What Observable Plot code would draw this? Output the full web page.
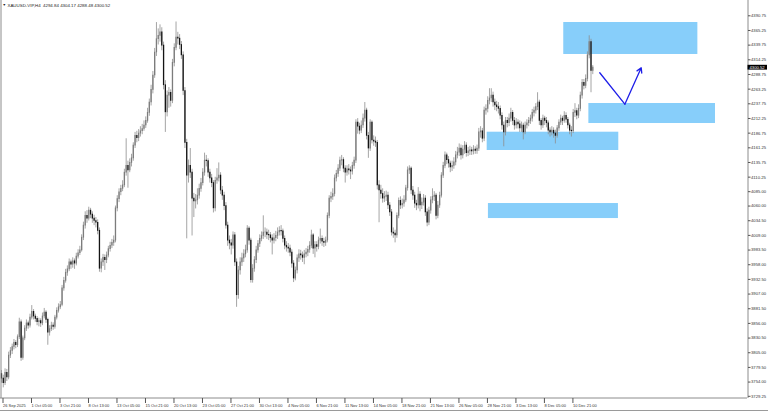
<!DOCTYPE html>
<html><head><meta charset="utf-8">
<script src="https://cdn.jsdelivr.net/npm/d3@7"></script>
<script src="https://cdn.jsdelivr.net/npm/@observablehq/plot@0.6"></script>
<style>
body{margin:0;background:#fff;}
#chart{width:768px;height:411px;position:relative;overflow:hidden;}
#chart svg{display:block;}
#border{height:1px;background:#9a9a9a;}
</style>
</head><body><div id="chart"></div>
<script>
const chartTitle = "XAUUSD-VIP,H4  4294.84 4304.17 4288.48 4300.52";
const firstOpen = 3768;
const closes = [
3760,3752,3770,3762,3800,3808,3815,3822,3818,3832,
3858,3796,3830,3847,3856,3852,3866,3876,3868,3864,
3858,3860,3856,3868,3875,3862,3840,3846,3852,3850,
3866,3878,3884,3888,3917,3930,3944,3950,3962,3958,
3964,3960,3972,3978,3983,4005,4026,4043,4038,4052,
4045,4038,4034,4031,4017,3951,3962,3970,3966,3974,
3985,3991,3996,4000,4056,4072,4084,4090,4096,4118,
4130,4122,4135,4143,4165,4182,4178,4186,4190,4194,
4200,4208,4222,4240,4262,4287,4327,4350,4356,4362,
4339,4270,4223,4252,4257,4243,4309,4335,4353,4351,
4340,4322,4260,4170,4113,4130,4118,4073,4068,4070,
4078,4090,4100,4118,4139,4138,4118,4108,4100,4056,
4104,4108,4113,4087,4078,4060,4026,4000,3995,3991,
4009,3962,3905,3948,3962,3969,3976,3983,4021,4000,
3931,3951,3966,3983,3994,4003,4008,4014,4014,4010,
4009,4004,4000,4004,4008,4014,4017,4016,4003,3991,
3988,3986,3979,3960,3934,3948,3969,3976,3974,3970,
3976,3979,3984,3991,4009,3986,3992,3989,4000,4003,
3998,3996,4000,4043,4073,4076,4081,4108,4116,4125,
4139,4140,4125,4118,4124,4122,4120,4130,4139,4205,
4198,4191,4200,4212,4226,4182,4160,4205,4174,4172,
4170,4096,4087,4081,4073,4076,4078,4061,4049,4014,
4012,4009,4043,4069,4061,4064,4070,4091,4122,4125,
4087,4078,4064,4061,4080,4061,4066,4073,4049,4031,
4052,4070,4076,4078,4043,4061,4078,4113,4130,4148,
4140,4134,4127,4130,4136,4148,4153,4160,4148,4158,
4165,4152,4155,4157,4155,4158,4156,4160,4188,4190,
4177,4226,4229,4243,4247,4252,4240,4235,4232,4229,
4217,4200,4188,4208,4204,4212,4222,4208,4200,4205,
4202,4195,4200,4188,4200,4204,4208,4212,4222,4226,
4232,4240,4208,4200,4212,4208,4204,4191,4188,4191,
4186,4182,4195,4205,4212,4208,4217,4210,4200,4191,
4190,4222,4225,4217,4229,4252,4274,4269,4281,4322,
4345,4294.84,4300.52];
const highs = [
3774,3766,3777,3776,3806,3814,3820,3828,3826,3836,
3865,3862,3834,3852,3862,3860,3872,3887,3880,3872,
3868,3865,3864,3874,3882,3878,3865,3852,3858,3857,
3870,3883,3890,3894,3922,3936,3950,3956,3968,3966,
3970,3968,3978,3984,3990,4010,4032,4050,4052,4058,
4056,4050,4044,4040,4036,4022,3968,3976,3975,3980,
3990,3997,4002,4008,4060,4078,4090,4096,4104,4124,
4177,4138,4142,4150,4170,4188,4190,4193,4198,4202,
4208,4215,4230,4246,4270,4294,4334,4379,4368,4375,
4370,4345,4278,4260,4266,4262,4315,4342,4380,4362,
4358,4346,4328,4266,4176,4140,4160,4124,4082,4080,
4090,4098,4108,4125,4152,4148,4142,4124,4115,4104,
4110,4125,4135,4118,4094,4084,4066,4032,4008,4002,
4015,4014,3968,3955,3970,3978,3984,3992,4026,4024,
4004,3958,3972,3990,4000,4010,4015,4043,4022,4020,
4018,4014,4010,4012,4016,4022,4024,4026,4020,4008,
3998,3995,3992,3984,3965,3954,3975,3984,3983,3980,
3983,3986,3990,3998,4018,4012,3998,3998,4006,4020,
4008,4004,4006,4048,4078,4084,4090,4114,4122,4132,
4145,4148,4144,4130,4130,4132,4128,4136,4145,4210,
4212,4204,4208,4220,4240,4230,4188,4210,4208,4182,
4180,4174,4104,4096,4090,4085,4086,4084,4066,4054,
4022,4018,4048,4074,4076,4072,4078,4096,4128,4130,
4128,4094,4084,4070,4092,4085,4074,4080,4078,4055,
4058,4076,4090,4085,4082,4068,4084,4118,4136,4154,
4152,4146,4138,4138,4144,4155,4162,4168,4166,4165,
4172,4170,4162,4164,4162,4165,4163,4166,4195,4198,
4195,4232,4236,4250,4264,4264,4258,4246,4242,4240,
4234,4222,4206,4214,4214,4220,4230,4226,4214,4212,
4210,4208,4206,4204,4206,4210,4214,4218,4228,4232,
4238,4257,4244,4212,4218,4216,4214,4208,4196,4198,
4196,4192,4200,4210,4218,4216,4224,4222,4214,4204,
4198,4228,4238,4230,4236,4258,4280,4280,4288,4328,
4356,4350,4304.17];
const lows = [
3752,3744,3748,3755,3758,3795,3802,3810,3812,3814,
3828,3790,3792,3826,3842,3846,3848,3862,3862,3858,
3852,3850,3849,3852,3864,3856,3818,3834,3842,3844,
3846,3862,3874,3880,3885,3912,3926,3938,3946,3950,
3952,3950,3956,3968,3974,3980,4000,4020,4030,4034,
4038,4030,4026,4022,4010,3945,3944,3955,3948,3960,
3970,3980,3986,3990,3996,4050,4066,4078,4085,4092,
4112,4091,4118,4128,4138,4160,4170,4172,4180,4184,
4190,4195,4204,4216,4234,4255,4282,4320,4340,4345,
4330,4262,4188,4215,4230,4232,4238,4302,4330,4340,
4332,4315,4252,4160,4003,4100,4108,4008,4040,4055,
4062,4072,4084,4095,4112,4128,4110,4100,4092,4048,
4050,4098,4102,4080,4070,4052,4020,3990,3984,3975,
3985,3955,3884,3898,3940,3955,3962,3970,3978,3992,
3926,3926,3945,3960,3978,3988,3998,4002,4005,4002,
4000,3996,3975,3994,3998,4002,4008,4008,3996,3984,
3980,3978,3972,3952,3927,3930,3942,3962,3966,3962,
3958,3970,3972,3978,3986,3976,3970,3980,3984,3994,
3990,3988,3990,3996,4038,4066,4070,4076,4102,4110,
4120,4130,4118,4100,4112,4114,4106,4114,4124,4134,
4185,4184,4186,4195,4206,4175,4143,4155,4168,4164,
4162,4088,4031,4072,4065,4066,4068,4054,4042,4008,
4004,3996,4004,4038,4054,4055,4058,4066,4086,4115,
4080,4070,4056,4052,4055,4050,4054,4060,4042,4024,
4026,4046,4064,4068,4036,4038,4056,4074,4108,4125,
4132,4126,4118,4120,4124,4130,4142,4146,4140,4142,
4150,4145,4146,4148,4148,4149,4150,4150,4155,4178,
4170,4172,4218,4222,4236,4240,4232,4226,4224,4220,
4210,4192,4163,4182,4196,4198,4206,4200,4192,4194,
4194,4188,4188,4175,4184,4194,4198,4202,4206,4215,
4220,4226,4200,4192,4195,4200,4196,4184,4180,4182,
4178,4168,4178,4190,4200,4200,4204,4204,4194,4184,
4180,4186,4214,4210,4212,4224,4246,4262,4264,4276,
4316,4257,4288.48];
const timeLabels = ["26 Sep 2025","1 Oct 05:00","3 Oct 21:00","8 Oct 13:00","13 Oct 05:00","15 Oct 21:00","20 Oct 13:00","23 Oct 05:00","27 Oct 21:00","30 Oct 13:00","4 Nov 05:00","6 Nov 21:00","11 Nov 13:00","14 Nov 05:00","18 Nov 21:00","21 Nov 13:00","26 Nov 05:00","28 Nov 21:00","3 Dec 13:00","8 Dec 05:00","10 Dec 21:00"];
const barsPerLabel = 16;
const priceLabels = ["4390.75","4365.25","4339.75","4314.25","4288.75","4263.25","4237.75","4212.25","4186.75","4161.25","4135.75","4110.25","4085.00","4060.00","4034.50","4009.00","3983.50","3958.00","3932.50","3907.00","3881.50","3856.00","3830.50","3805.00","3779.50","3754.00","3729.25"];
// zones (bar index, price)
const zoneStartBar = [315.7, 329.8, 272.7, 273.4];
const zoneEndBar = [391.0, 400.9, 346.6, 346.4];
const zoneTop = [4379.1, 4238.3, 4188.4, 4064.4];
const zoneBottom = [4323.5, 4203.5, 4156.6, 4038.3];
// projected path (bar index, price)
const pathBar = [335.9, 350.0, 359.2];
const pathPrice = [4291.7, 4237.1, 4300.3];

const bars = closes.map((c, i) => ({i, open: i === 0 ? firstOpen : closes[i - 1], close: c, high: highs[i], low: lows[i]}));
const zones = zoneStartBar.map((s, k) => ({x1: s, x2: zoneEndBar[k], y1: zoneBottom[k], y2: zoneTop[k]}));
const path = pathBar.map((b, k) => ({x: b, y: pathPrice[k]}));
const lastClose = closes[closes.length - 1];

const xDomain = [-0.5615, 418.87];
const yDomain = [3725.45, 4417.35];
const font = "Liberation Sans, Arial, sans-serif";

const chart = Plot.plot({
  width: 768, height: 410,
  marginLeft: 0, marginRight: 21, marginTop: 0, marginBottom: 12,
  style: {fontFamily: font, background: "#fff", color: "#222"},
  x: {domain: xDomain, axis: null},
  y: {domain: yDomain, axis: null},
  marks: [
    Plot.rect(zones, {x1: "x1", x2: "x2", y1: "y1", y2: "y2", fill: "#87cefa"}),
    Plot.ruleX(bars, {x: "i", y1: "low", y2: "high", stroke: "#8e8e8e", strokeWidth: 0.8}),
    Plot.ruleX(bars, {x: "i", y1: d => Math.min(d.open, d.close) - 0.6, y2: d => Math.max(d.open, d.close) + 0.6,
      stroke: d => d.close >= d.open ? "#7c7c7c" : "#141414", strokeWidth: 1.3}),
    Plot.line(path.slice(0, 2), {x: "x", y: "y", stroke: "#1e1ee8", strokeWidth: 1.3}),
    Plot.arrow([{x1: path[1].x, y1: path[1].y, x2: path[2].x, y2: path[2].y}],
      {x1: "x1", y1: "y1", x2: "x2", y2: "y2", stroke: "#1e1ee8", strokeWidth: 1.3, headLength: 6, bend: 0}),
    Plot.ruleX([xDomain[0]], {stroke: "#8c8c8c", dx: 0.5}),
    Plot.ruleX([xDomain[1]], {stroke: "#8c8c8c", dx: 0.5}),
    Plot.ruleY([yDomain[0]], {stroke: "#8c8c8c", dy: -0.5}),
    Plot.axisY({anchor: "right", ticks: priceLabels.map(Number), tickFormat: d => priceLabels.find(s => +s === d),
      tickSize: 2.5, tickPadding: 1, fontSize: 4.2, stroke: "#555", fill: "#333"}),
    Plot.axisX({anchor: "bottom", ticks: timeLabels.map((_, k) => k * barsPerLabel),
      tickFormat: d => timeLabels[d / barsPerLabel], tickSize: 5, tickPadding: 0.5,
      textAnchor: "start", dx: 1.5, fontSize: 4.0, stroke: "#555", fill: "#333"}),
    Plot.text([chartTitle], {frameAnchor: "top-left", dx: 7, dy: 3, fontSize: 4.4, fill: "#222", textAnchor: "start"}),
    Plot.text(["▼"], {frameAnchor: "top-left", dx: 2, dy: 3.3, fontSize: 3.6, fill: "#222", textAnchor: "start"})
  ]
});
document.getElementById("chart").appendChild(chart);
const border = document.createElement("div");
border.id = "border";
document.getElementById("chart").appendChild(border);

// current price label on the price axis
const svg = d3.select(chart);
const yPos = chart.scale("y").apply(lastClose);
const xPos = chart.scale("x").apply(xDomain[1]);
svg.append("rect").attr("x", xPos + 0.5).attr("y", yPos - 2.4).attr("width", 19.5).attr("height", 4.8).attr("fill", "#000");
svg.append("text").attr("x", xPos + 2.5).attr("y", yPos + 1.5).attr("fill", "#fff")
  .attr("text-anchor", "start").attr("font-size", 4.2).attr("font-family", font).text(lastClose.toFixed(2));
</script>
</body></html>
